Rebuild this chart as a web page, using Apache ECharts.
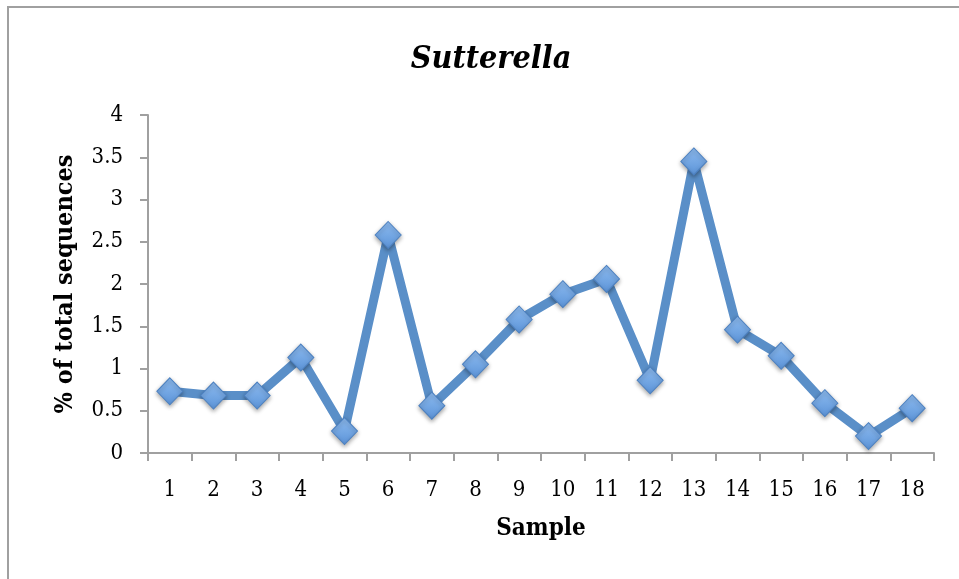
<!DOCTYPE html>
<html>
<head>
<meta charset="utf-8">
<script src="https://cdn.jsdelivr.net/npm/echarts@6/dist/echarts.min.js"></script>
<style>
html,body{margin:0;padding:0;background:#fff;}
#chart{width:959px;height:579px;}
</style>
</head>
<body>
<div id="chart"></div>
<script>
const categories = ['1','2','3','4','5','6','7','8','9','10','11','12','13','14','15','16','17','18'];
const values = [0.73, 0.68, 0.68, 1.13, 0.26, 2.58, 0.56, 1.05, 1.58, 1.88, 2.06, 0.86, 3.45, 1.46, 1.15, 0.59, 0.20, 0.53];
const titleText = 'Sutterella';
const xName = 'Sample';
const yName = '% of total sequences';

const serif = '"DejaVu Serif Condensed", "DejaVu Serif", serif';
const chart = echarts.init(document.getElementById('chart'));
chart.setOption({
  backgroundColor: '#fff',
  animation: false,
  graphic: [{
    type: 'rect',
    shape: {x: 8, y: 7, width: 1200, height: 1200},
    style: {fill: 'none', stroke: '#a0a0a0', lineWidth: 2},
    silent: true
  }],
  title: {
    text: titleText,
    left: 486, top: 39, textAlign: 'center',
    textStyle: {fontFamily: serif, fontStyle: 'italic', fontWeight: 'bold', fontSize: 32, color: '#000'}
  },
  grid: {left: 148, right: 25, top: 115, bottom: 126},
  xAxis: {
    type: 'category',
    data: categories,
    boundaryGap: true,
    name: xName,
    nameLocation: 'middle',
    nameGap: 64,
    nameTextStyle: {fontFamily: serif, fontWeight: 'bold', fontSize: 24, color: '#000'},
    axisLine: {lineStyle: {color: '#a0a0a0', width: 2}},
    axisTick: {show: true, alignWithLabel: false, length: 8, lineStyle: {color: '#a0a0a0', width: 2}},
    axisLabel: {fontFamily: serif, fontSize: 22, color: '#000', margin: 26, interval: 0},
    splitLine: {show: false}
  },
  yAxis: {
    type: 'value',
    min: 0, max: 4, interval: 0.5,
    name: yName,
    nameLocation: 'middle',
    nameGap: 70,
    nameRotate: 90,
    nameTextStyle: {fontFamily: serif, fontWeight: 'bold', fontSize: 25, color: '#000'},
    axisLine: {show: true, lineStyle: {color: '#a0a0a0', width: 2}},
    axisTick: {show: true, length: 8, lineStyle: {color: '#a0a0a0', width: 2}},
    axisLabel: {fontFamily: serif, fontSize: 22, color: '#000', margin: 25},
    splitLine: {show: false}
  },
  series: [{
    type: 'line',
    data: values,
    symbol: 'diamond',
    symbolSize: [26, 27],
    lineStyle: {color: '#5a8fc8', width: 9, join: 'round'},
    itemStyle: {
      color: new echarts.graphic.LinearGradient(0, 0, 0, 1, [
        {offset: 0, color: '#8ebcf0'},
        {offset: 1, color: '#5b93d8'}
      ]),
      borderColor: '#4c80c0',
      borderWidth: 1,
      shadowColor: 'rgba(0,0,0,0.35)',
      shadowBlur: 4,
      shadowOffsetY: 2
    },
    z: 3
  }]
});
</script>
</body>
</html>
